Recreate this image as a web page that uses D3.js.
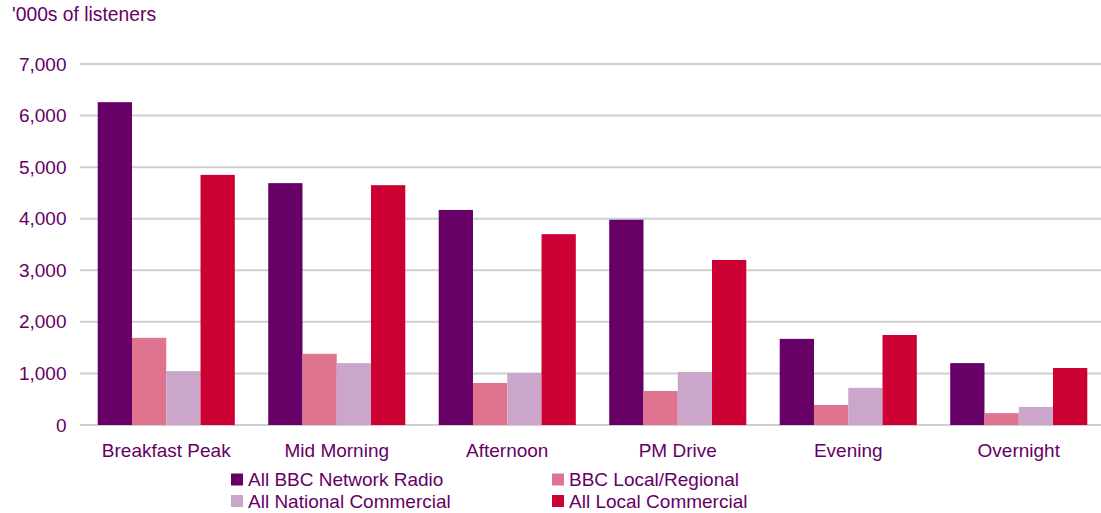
<!DOCTYPE html>
<html>
<head>
<meta charset="utf-8">
<script src="https://cdn.jsdelivr.net/npm/d3@7"></script>
<style>
  html, body { margin: 0; padding: 0; background: #fff; }
  svg { display: block; font-family: "Liberation Sans", Arial, sans-serif; }
</style>
</head>
<body>
<svg id="chart" width="1101" height="513"></svg>
<script>
// Listening by daypart, thousands of listeners
const dayparts = ["Breakfast Peak", "Mid Morning", "Afternoon", "PM Drive", "Evening", "Overnight"];
const seriesNames = ["All BBC Network Radio", "BBC Local/Regional", "All National Commercial", "All Local Commercial"];
const bbcNetwork = [6260, 4690, 4170, 3980, 1670, 1200];
const bbcLocal = [1690, 1380, 815, 660, 390, 230];
const nationalCommercial = [1045, 1200, 1010, 1030, 720, 350];
const localCommercial = [4850, 4650, 3700, 3200, 1745, 1105];
const yTicks = [0, 1000, 2000, 3000, 4000, 5000, 6000, 7000];
const seriesColors = ["#660066", "#E07390", "#C9A6CA", "#CC0033"];
const textColor = "#660066";
const fontSize = 19;

const seriesValues = [bbcNetwork, bbcLocal, nationalCommercial, localCommercial];
const rows = dayparts.map((d, i) => ({ daypart: d, values: seriesValues.map(s => s[i]) }));

const svg = d3.select("#chart");
const plot = { left: 81, right: 1104, top: 64, bottom: 425 };

const x0 = d3.scaleBand().domain(dayparts).range([plot.left, plot.right]).paddingInner(0.196).paddingOuter(0.098);
const x1 = d3.scaleBand().domain(d3.range(seriesNames.length)).range([0, x0.bandwidth()]);
const y = d3.scaleLinear().domain([0, 7000]).range([plot.bottom, plot.top]);

// Horizontal gridlines
svg.append("g")
  .selectAll("line")
  .data(yTicks)
  .join("line")
  .attr("x1", plot.left - 1)
  .attr("x2", plot.right)
  .attr("y1", d => y(d))
  .attr("y2", d => y(d))
  .attr("stroke", "#cfcfcf")
  .attr("stroke-width", 2);

// Value axis labels
const yAxis = d3.axisLeft(y).tickValues(yTicks).tickFormat(d3.format(",")).tickSize(0).tickPadding(0);
const yg = svg.append("g").attr("transform", `translate(${plot.left - 14.5},0)`).call(yAxis);
yg.select(".domain").remove();
yg.selectAll("text")
  .attr("fill", textColor)
  .attr("font-size", fontSize)
  .attr("font-family", "Liberation Sans, Arial, sans-serif");

// Bars
svg.append("g")
  .selectAll("g")
  .data(rows)
  .join("g")
  .attr("transform", d => `translate(${x0(d.daypart)},0)`)
  .selectAll("rect")
  .data(d => d.values.map((v, k) => ({ k, v })))
  .join("rect")
  .attr("x", d => x1(d.k))
  .attr("width", x1.bandwidth())
  .attr("y", d => y(d.v))
  .attr("height", d => y(0) - y(d.v))
  .attr("fill", d => seriesColors[d.k]);

// Category axis labels
const xAxis = d3.axisBottom(x0).tickSize(0).tickPadding(0);
const xg = svg.append("g").attr("transform", `translate(0,${plot.bottom + 18})`).call(xAxis);
xg.select(".domain").remove();
xg.selectAll("text")
  .attr("fill", textColor)
  .attr("font-size", fontSize)
  .attr("font-family", "Liberation Sans, Arial, sans-serif")
  .attr("dy", "0.71em");

// Title
svg.append("text")
  .attr("x", 12)
  .attr("y", 21)
  .attr("fill", textColor)
  .attr("font-size", 19.3)
  .text("'000s of listeners");

// Legend: two columns, two rows
const legendCols = [231, 552];
const legendRows = [479.5, 501];
const legend = svg.append("g")
  .selectAll("g")
  .data(seriesNames)
  .join("g")
  .attr("transform", (d, i) => `translate(${legendCols[i % 2]},${legendRows[Math.floor(i / 2)]})`);
legend.append("rect")
  .attr("x", 0)
  .attr("y", -6)
  .attr("width", 12)
  .attr("height", 12)
  .attr("fill", (d, i) => seriesColors[i]);
legend.append("text")
  .attr("x", 17)
  .attr("y", 0)
  .attr("dy", "0.35em")
  .attr("fill", textColor)
  .attr("font-size", fontSize)
  .text(d => d);
</script>
</body>
</html>
